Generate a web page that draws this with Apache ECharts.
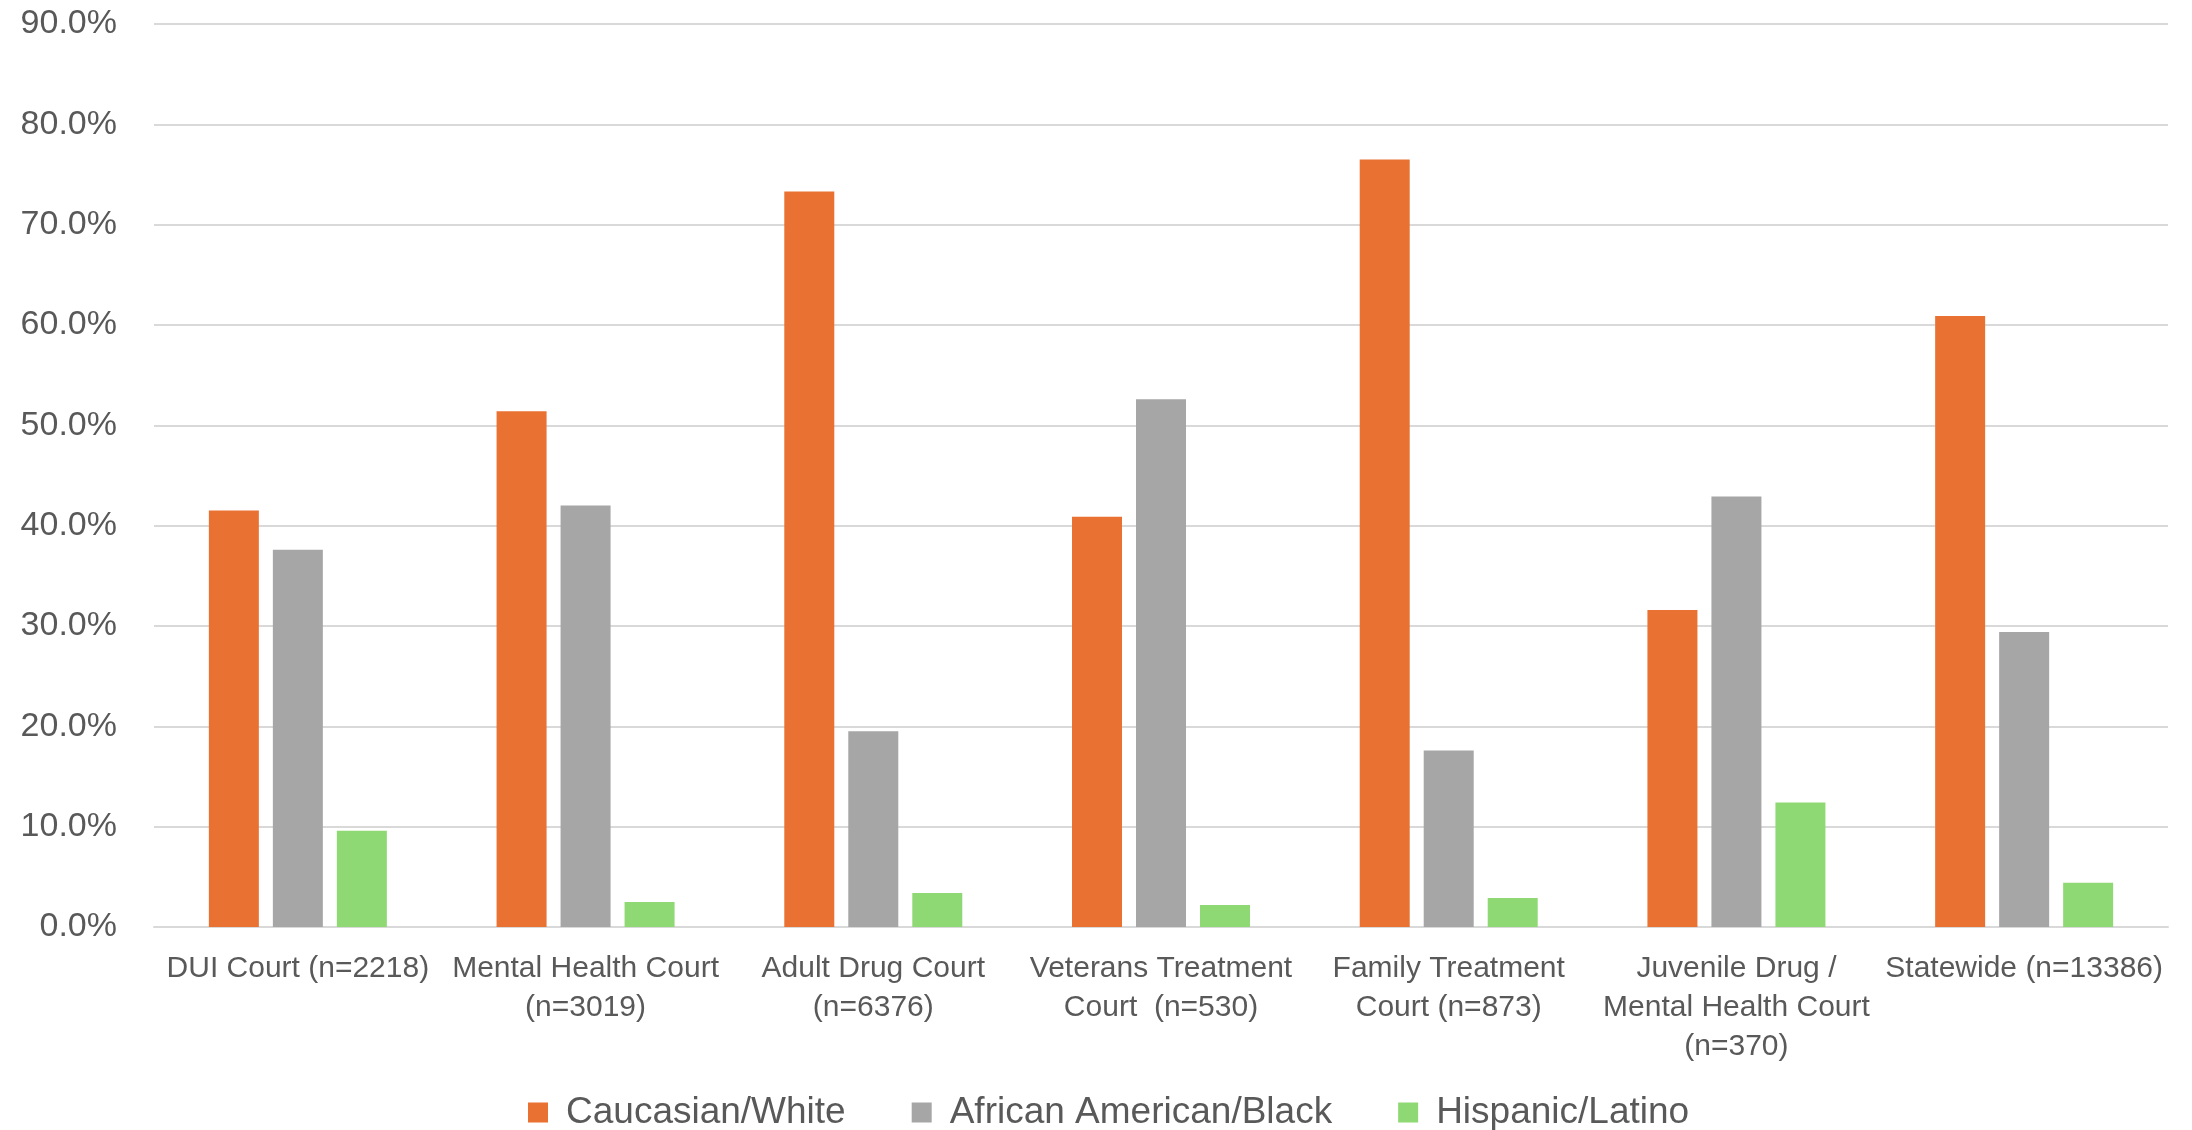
<!DOCTYPE html>
<html>
<head>
<meta charset="utf-8">
<script src="https://cdn.jsdelivr.net/npm/echarts@6/dist/echarts.min.js"></script>
<style>
  html, body { margin: 0; padding: 0; background: #ffffff; }
  #chart { width: 2192px; height: 1130px; }
</style>
</head>
<body>
<div id="chart"></div>
<script>
// Court categories (tick labels on the x axis)
const courts = [
  'DUI Court (n=2218)',
  'Mental Health Court\n(n=3019)',
  'Adult Drug Court\n(n=6376)',
  'Veterans Treatment\nCourt  (n=530)',
  'Family Treatment\nCourt (n=873)',
  'Juvenile Drug /\nMental Health Court\n(n=370)',
  'Statewide (n=13386)'
];

// Share of participants by race/ethnicity, in percent
const caucasianWhite = [41.5, 51.4, 73.3, 40.9, 76.5, 31.6, 60.9];
const africanAmericanBlack = [37.6, 42.0, 19.5, 52.6, 17.6, 42.9, 29.4];
const hispanicLatino = [9.6, 2.5, 3.4, 2.2, 2.9, 12.4, 4.4];

const seriesNames = ['Caucasian/White', 'African American/Black', 'Hispanic/Latino'];
const seriesColors = ['#E97132', '#A6A6A6', '#8ED973'];

const FONT = '"Liberation Sans", Arial, sans-serif';
const TEXT = '#595959';

const chart = echarts.init(document.getElementById('chart'), null, { renderer: 'canvas' });

const dataSets = [caucasianWhite, africanAmericanBlack, hispanicLatino];

chart.setOption({
  animation: false,
  backgroundColor: '#ffffff',
  textStyle: { fontFamily: FONT, color: TEXT },
  grid: { left: 154, right: 24, top: 24, bottom: 203, containLabel: false },
  legend: {
    top: 1089,
    left: 523,
    itemWidth: 20,
    itemHeight: 20,
    itemGap: 66,
    icon: 'rect',
    textStyle: { fontFamily: FONT, fontSize: 37, color: TEXT, padding: [0, 0, 0, 13] },
    data: seriesNames
  },
  xAxis: {
    type: 'category',
    data: courts,
    axisLine: { show: true, lineStyle: { color: '#D9D9D9', width: 2 } },
    axisTick: { show: false },
    axisLabel: {
      interval: 0,
      margin: 22,
      fontFamily: FONT,
      fontSize: 30,
      lineHeight: 39,
      color: TEXT,
      align: 'center',
      verticalAlign: 'top'
    }
  },
  yAxis: {
    type: 'value',
    min: 0,
    max: 90,
    interval: 10,
    axisLine: { show: false },
    axisTick: { show: false },
    splitLine: { lineStyle: { color: '#D9D9D9', width: 2 } },
    axisLabel: {
      margin: 37,
      fontFamily: FONT,
      fontSize: 34,
      color: TEXT,
      formatter: v => v.toFixed(1) + '%'
    }
  },
  series: seriesNames.map((name, i) => ({
    name,
    type: 'bar',
    data: dataSets[i],
    barWidth: 50,
    barGap: '28%',
    itemStyle: { color: seriesColors[i] }
  }))
});
</script>
</body>
</html>
